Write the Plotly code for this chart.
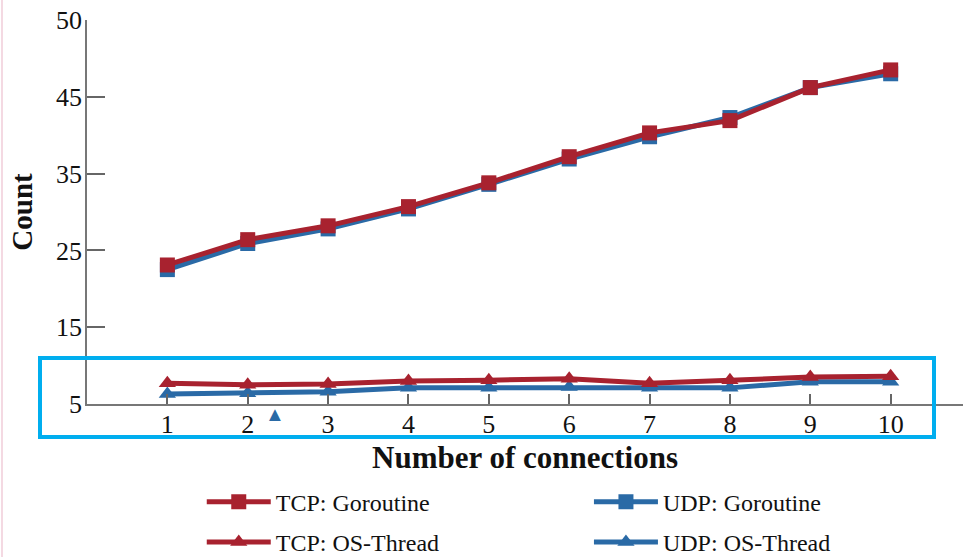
import plotly.graph_objects as go

connections = [1, 2, 3, 4, 5, 6, 7, 8, 9, 10]
tcp_goroutine = [23.1, 26.4, 28.2, 30.7, 33.8, 37.2, 40.3, 41.9, 46.2, 48.5]
udp_goroutine = [22.5, 25.9, 27.8, 30.4, 33.6, 36.9, 39.8, 42.3, 46.2, 48.0]
tcp_osthread = [7.7, 7.5, 7.6, 8.0, 8.1, 8.3, 7.7, 8.1, 8.5, 8.6]
udp_osthread = [6.3, 6.4, 6.6, 7.1, 7.1, 7.2, 7.1, 7.1, 7.9, 7.9]

y_tickvals = [5, 15, 25, 35, 45, 55]
y_ticktext = ["5", "15", "25", "35", "45", "50"]

RED = "#A8222F"
BLUE = "#2A6AA6"
FONT = "Liberation Serif, Times New Roman, serif"

fig = go.Figure()

def add(name, y, color, symbol, legend, rank):
    fig.add_trace(go.Scatter(
        x=connections, y=y, name=name, mode="lines+markers",
        line=dict(color=color, width=5),
        marker=dict(color=color, symbol=symbol, size=15),
        legend=legend, legendgroup=name, legendrank=rank,
    ))

add("UDP: Goroutine", udp_goroutine, BLUE, "square", "legend2", 1)
add("UDP: OS-Thread", udp_osthread, BLUE, "triangle-up", "legend2", 2)
add("TCP: Goroutine", tcp_goroutine, RED, "square", "legend", 1)
add("TCP: OS-Thread", tcp_osthread, RED, "triangle-up", "legend", 2)

legend_common = dict(
    orientation="v", yanchor="top", xanchor="left",
    font=dict(family=FONT, size=24, color="#111"),
    tracegroupgap=6, itemwidth=64, bgcolor="rgba(0,0,0,0)",
)

fig.update_layout(
    width=964, height=557,
    margin=dict(l=87, r=1, t=20, b=153, autoexpand=False),
    plot_bgcolor="white", paper_bgcolor="white",
    font=dict(family=FONT, size=26, color="#111"),
    xaxis=dict(
        range=[0, 10.9], tickvals=connections, showline=True,
        linecolor="#777", linewidth=1.5, ticks="inside", ticklen=10,
        tickcolor="#666", tickwidth=2, showgrid=False, zeroline=False,
        tickfont=dict(family=FONT, size=26), automargin=False,
        ticklabelstandoff=-4,
    ),
    yaxis=dict(
        range=[5, 55], tickvals=y_tickvals, ticktext=y_ticktext, showline=True,
        linecolor="#777", linewidth=1.5, ticks="inside", ticklen=18,
        tickcolor="#666", tickwidth=2, showgrid=False, zeroline=False,
        tickfont=dict(family=FONT, size=26), automargin=False,
        ticklabelstandoff=-2,
        title=dict(text="<b>Count</b>", font=dict(family=FONT, size=29)),
    ),
    legend=dict(x=0.131, y=-0.197, **legend_common),
    legend2=dict(x=0.573, y=-0.197, **legend_common),
    showlegend=True,
)

# x-axis title
fig.add_annotation(xref="paper", yref="paper", x=0.5, y=(404 - 457) / 384,
                   yanchor="middle", xanchor="center", showarrow=False,
                   text="<b>Number of connections</b>",
                   font=dict(family=FONT, size=31, color="#111"))
# highlight box
fig.add_shape(type="rect", xref="paper", yref="paper",
              x0=(40 - 87) / 876, x1=(934 - 87) / 876,
              y0=(404 - 437) / 384, y1=(404 - 358) / 384,
              line=dict(color="#00AEEF", width=4))
# stray marker glyph
fig.add_annotation(xref="paper", yref="paper", x=(263 - 87) / 876, y=(404 - 414) / 384,
                   yanchor="middle", text="▲", showarrow=False,
                   font=dict(color=BLUE, size=20))
# faint left border
fig.add_shape(type="line", xref="paper", yref="paper",
              x0=-85 / 876, x1=-85 / 876, y0=-153 / 384, y1=1 + 20 / 384,
              line=dict(color="#F4D9E2", width=2))

fig.write_html("out.html", config={"displayModeBar": False},
               post_script="document.body.style.margin='0';")
